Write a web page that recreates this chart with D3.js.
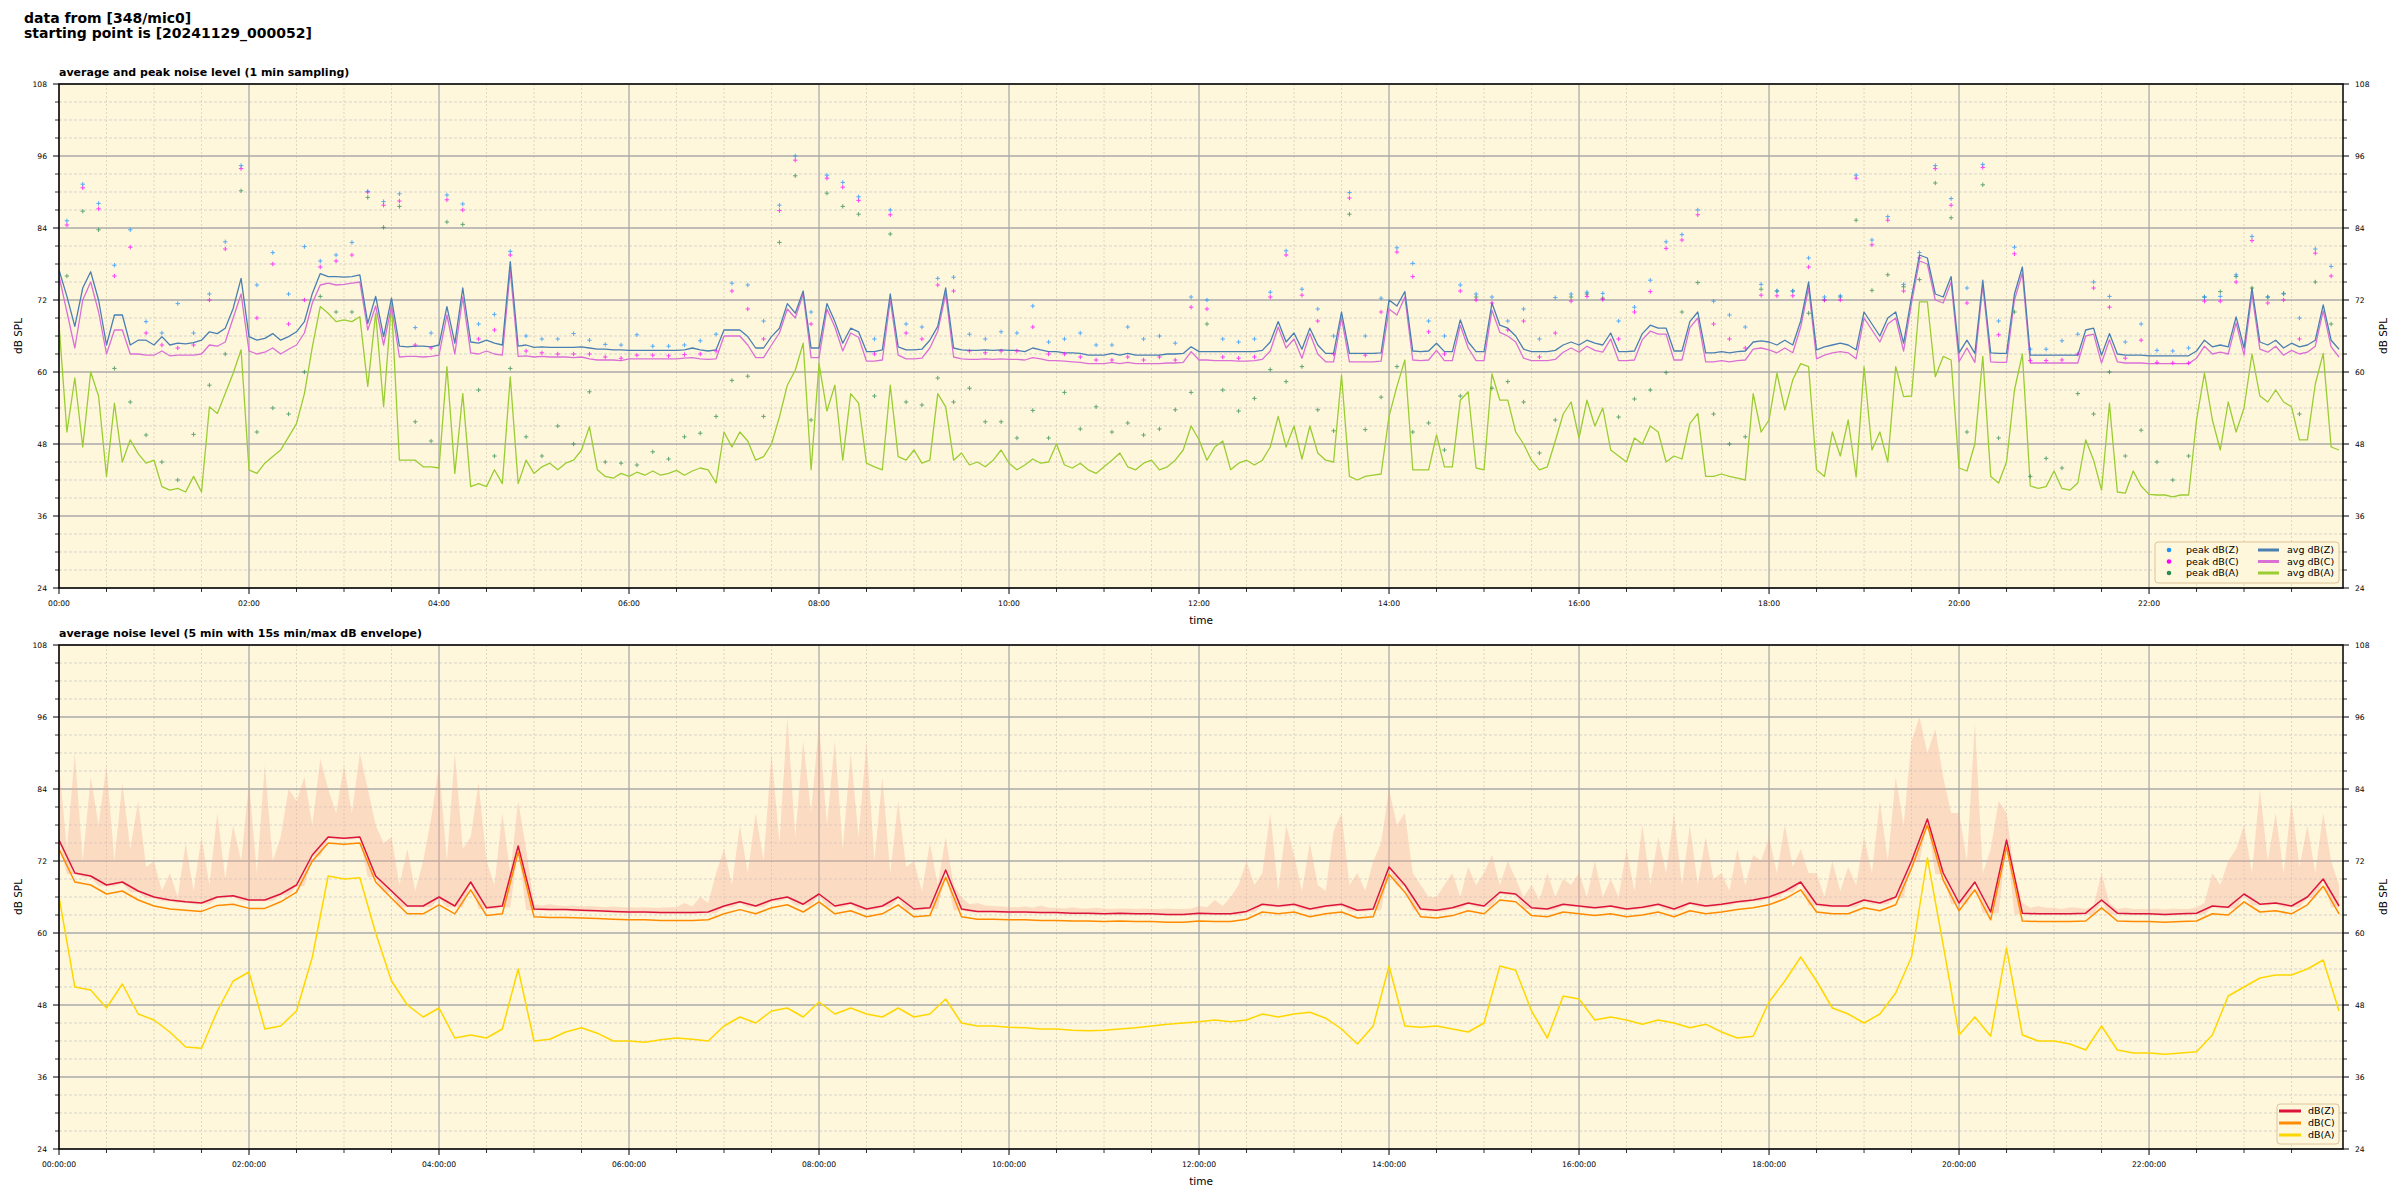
<!DOCTYPE html>
<html><head><meta charset="utf-8">
<script src="https://cdn.jsdelivr.net/npm/d3@7"></script>
<style>body{margin:0;background:#fff}svg{display:block}text{font-family:"DejaVu Sans",sans-serif;fill:#000}</style>
</head><body><svg id="c" width="2400" height="1200"></svg>
<script>
// ---------- DATA ----------
// top panel: 1-min averages, read every 5 minutes (00:00 .. 24:00)
const topZ=[77,72.6,67.6,74,76.7,72,64.5,69.5,69.5,64.5,65.3,65.3,64.5,65.9,64.5,64.8,64.7,64.9,65.3,66.7,66.4,67.3,70.6,75.6,65.9,65.3,65.6,66.4,65.3,65.9,66.7,68.4,73.1,76.4,75.9,75.9,75.8,75.9,76.2,68.1,72.6,65.9,72.3,64.3,64.2,64.3,64.3,64.2,64.5,70.9,64.8,74,65,64.8,65.3,64.8,64.5,78.4,64.3,64.5,64.1,64.2,64.1,64.1,64.1,64.1,64.2,64,63.8,63.8,63.7,63.7,
63.6,63.6,63.6,63.6,63.6,63.6,63.6,63.7,64,63.7,63.5,63.7,67,67,67,65.9,64,64,65.9,67.3,71.4,69.8,73.5,64,64,71.4,68.4,64.8,67.3,66.7,63.4,63.4,63.7,73,64.2,63.7,63.7,63.8,65.3,67.6,74,64,63.7,63.6,63.6,63.7,63.6,63.7,63.6,63.6,63.4,64,63.7,63.4,63.4,63.2,63.2,63.1,62.8,62.8,62.8,63.1,62.8,63.1,62.8,62.8,62.8,62.8,63,63,63.1,64.2,
63.4,63.4,63.4,63.4,63.4,63.4,63.4,63.4,63.6,65,68.4,65,66.5,63.8,67.3,64.5,63.1,63.1,70,63.1,63.1,63.1,63.1,63.2,72,71,73.4,63.5,63.4,63.5,64.8,63.4,63.4,68.7,65,63.4,63.4,71.5,67.8,67.3,66,63.8,63.4,63.4,63.4,63.6,64.5,65,64.5,65.3,64.8,64.5,66.5,63.4,63.4,63.5,66.4,67.8,67.3,67.3,63.5,63.5,68.4,70,63.2,63.2,63.4,63.2,63.4,63.5,65,65.2,
65,64.5,65.3,64.5,68.5,75,63.7,64.2,64.5,64.8,64.5,63.7,70,68,66,69,70,64.8,72.5,79.5,79,73,72.5,75.9,63.2,65.3,63.1,75.3,63.2,63.1,63.1,73,77.5,62.8,62.8,62.8,62.8,62.8,62.8,62.8,67,67.3,62.8,66.4,63,62.8,62.8,62.8,62.7,62.7,62.7,62.7,62.7,62.7,63.5,65.3,64.2,64.5,64.2,69.2,64,74,65,64.5,65.3,64,64.8,64.2,64.5,65.3,71.2,65.3,63.8];
const topC=[76,70,64,72,75,70,63,67,67,63,63,62.8,62.8,63.5,62.7,62.8,62.8,62.8,63,64.5,64.3,65,69,73,63.5,63,63.3,64,63,63.8,64.5,66.5,71.5,74.5,74.8,74.5,74.6,74.8,75,67,71,64.5,71,62.5,62.6,62.6,62.5,62.6,62.8,69.5,63,72.5,63.2,63,63.5,63,62.8,77,62.6,62.7,62.5,62.6,62.5,62.5,62.5,62.4,62.5,62.2,62,62,62,61.9,
62.2,62.2,62.2,62.2,62.2,62.2,62.2,62.3,62.4,62.2,62.1,62.2,66,66,66,64.5,62.4,62.4,64.5,66.5,70.5,69,73,62.4,62.4,70.5,67.5,63.5,66.5,65.8,61.8,61.8,62,72,62.8,62.2,62.2,62.3,64,66.8,73,62.5,62.2,62.1,62.1,62.2,62.1,62.2,62.1,62.1,62,62.4,62.2,61.9,61.9,61.8,61.7,61.6,61.4,61.4,61.4,61.6,61.4,61.6,61.4,61.4,61.4,61.4,61.5,61.5,61.6,63.4,
62,62,61.9,61.9,61.9,61.8,61.8,61.9,62.1,63.5,67.5,64,65.5,62.3,66.4,63,61.7,61.7,69,61.7,61.7,61.7,61.7,61.8,70.5,69.5,72.5,62,61.9,62,63.6,61.9,61.9,67.8,64,61.9,61.9,70.3,66.6,66,65,62.3,61.9,61.9,61.9,62.1,63.3,64,63.3,64.3,63.6,63.3,65.5,61.9,61.9,62,65.4,66.8,66.3,66.3,62,62,67.4,69,61.7,61.7,61.9,61.7,61.9,62,63.8,64,
63.7,63.2,64,63.2,67.5,74,62.2,62.8,63.2,63.4,63.2,62.2,69,67,65,68,69,63.5,71.5,78.5,78,72,71.5,75,61.7,64,61.6,74.5,61.7,61.6,61.6,72,76.5,61.5,61.5,61.5,61.5,61.5,61.5,61.5,66,66.3,61.5,65.4,61.7,61.5,61.5,61.5,61.4,61.4,61.4,61.4,61.4,61.4,62.3,64.3,63,63.3,63,68.2,62.8,73,63.8,63.3,64.3,62.8,63.6,63,63.3,64.3,70.2,64.2,62.5];
const topA=[68,50,59,47.5,60,56,42.6,54.8,45,48.7,46.4,44.8,45.3,40.9,40.3,40.6,40,42.6,40,54.2,53.1,56.4,59.8,63.7,43.7,43.1,44.8,45.9,47,49.2,51.4,56.4,64.2,70.9,69.8,68.4,68.7,68.4,69.2,57.6,69.8,54.2,71.4,45.3,45.3,45.3,44.2,44.2,44,60.9,43.1,56.4,40.9,41.4,40.9,43.7,41.4,59.2,41.4,45.3,43.1,44.2,44.8,43.7,44.8,45.3,47,50.9,43.7,42.6,42.3,43.1,
42.6,43.3,42.8,43.5,42.8,43.1,43.6,42.8,43.5,44,43.7,41.5,50,47.5,50,48.5,45.3,45.9,48,52.5,57.8,60.3,64.8,43.7,61.4,53.5,57.8,45.3,56.4,54.8,44.8,44.2,43.7,57.8,45.9,45.3,47,44.8,45.3,56.4,54.2,45.3,46.5,44.5,45,44.2,45.3,47,44.8,43.7,44.5,45.5,44.8,45,48,44.5,44,44.8,43.7,43.1,44.2,45.3,46.5,44.2,43.7,44.8,45.3,43.7,44.2,45.3,47,51,
48.7,45.3,47.5,48.5,43.7,44.8,45.3,44.5,45.3,47.5,52.6,47.5,51,45.5,51,46.5,45.3,45,59.5,42.6,42,42.6,42.8,43,52.6,57.6,62,43.7,43.7,43.7,49.5,44.2,44.2,55.3,56.7,44,43.7,59.7,55.3,55.3,50,48,45.3,43.7,44.2,48.5,53,55,49,55.3,51,54,47,46,45,49,48,51,50,45,46,45.5,51.4,53.1,42.6,42.6,43,42.6,42.3,42,56.4,50,
52,59.8,53.7,58.7,61.4,60.9,43.7,42.6,50,46,52,42.5,60.9,47,50,45,60.9,55.9,56,71.7,71.7,59.2,62.6,62,44,43.5,48,62.6,42.6,41.5,45,57,63,41,40.6,40.9,43.5,40.6,40.3,41.5,48.7,45.3,40.3,54.8,40,39.8,43.5,41,39.6,39.5,39.5,39.2,39.5,39.5,52,59.8,52,47,55,50,54,63,56,55,57,55,54.2,48.7,48.7,58,63.1,47.5,47];
// peaks, one reading per 10 minutes (centred at hh:05, hh:15 ...)
const peakZ=[85.2,91.3,88.1,77.8,83.7,68.4,66.5,71.4,66.5,73,81.7,94.4,74.5,79.9,73,80.9,78.5,79.5,81.6,90.1,88.4,89.7,67.4,66.5,89.5,88,68,69.6,80.1,66,65.5,65.5,66.4,65.3,64.6,64.5,
66.2,64.3,64.3,64.5,65.2,66.3,74.8,74.5,68.5,87.8,96,70,92.8,91.6,89.2,65.5,87,68,67.5,75.6,75.8,66.3,65.5,66.7,66.5,71,65,65.5,66.5,64.5,64.5,67.5,65.5,66,64.8,72.5,
72,65.5,65,65.5,73.3,80.2,73.8,70.5,66,89.9,66,72.3,80.7,78.1,68.5,66,74.5,73,72.5,68.5,70.5,65.5,72.4,73,73.3,73.1,68.5,70.8,75.3,81.7,82.9,87,71.8,69.5,67.5,74.6,
73.5,73.5,79,72.5,72.7,92.8,82,85.9,74.6,79.9,94.4,88.9,74,94.6,68.5,80.8,63.8,63.8,65.2,66.3,75,72.6,65,68,63.6,63.5,64,72.5,72.6,76.2,82.6,72.5,73,69,80.5,77.6];
const peakC=[84.5,90.7,87.2,76,80.8,66.5,64.5,64,64.5,72,80.5,93.9,69,78,68,72,77.5,78.5,79.5,90,87.8,88.5,64.5,64,88.7,87,65.5,67,79.5,63.5,63.2,63,63,63,62.5,62.3,
62.8,62.8,62.7,62.9,63,63.5,73.5,70.5,65.5,86.9,95.3,68,92.3,90.8,88.6,63,86.2,66.5,65.5,74.5,73.5,63.5,63.2,63.5,63.5,67.5,63,63,62.5,62,62,62.5,62,62.5,62,70.8,
70.5,62.5,62.3,62.5,72.5,79.5,72.8,68.5,63,89,62.8,70,80,75.9,66.7,63,73.5,72,71.5,67,68.5,62.5,66.5,71.8,72.6,72.1,65.5,70,73.4,80.6,82,86.2,68,65.5,64,72.8,
72.7,72.7,77.5,72,72,92.3,81.2,85.3,73.5,79,93.9,87.8,71.5,94.1,66.2,79.7,61.9,61.9,62,63,74,70.8,62.3,65.3,61.6,61.5,61.5,71.8,71.8,75,81.9,71.5,72,65.5,79.8,76];
const peakA=[76,86.8,83.7,60.6,55,49.5,45,42,49.6,57.8,63,90.2,50,54,53,60,72.6,70,70,89.1,84.1,87.6,51.7,48.5,85,84.6,57,46,60.6,49.2,46,51,48,56.7,45,44.8,
44.5,46.7,45.5,49.2,49.8,52.6,58.6,59.3,52.6,81.6,92.7,52,89.8,87.6,86.3,56,83,55,54.5,59,55,57.3,51.7,51.7,49,53.6,49,56.6,50.5,54.2,50,51.5,49.5,50.5,53.7,56.6,
68,57,53.5,55.6,60.4,58.4,60.9,53.7,50.2,86.3,50.4,55.8,60.9,50,51.5,47,56,72.5,57.3,58.4,55,46.5,52,72.5,73,72.3,52.5,55.5,57,59.9,70,74.9,53,48,49.2,73.8,
73.5,73.5,69.8,72,72.5,85.3,73.6,76.2,74.2,75.4,91.5,85.7,50,91.2,49,70,42.6,45.6,44,56.4,53,60,46,50.3,45,42,46,72.5,73.4,75.9,74,72.5,73.1,53,75,68];
// bottom panel: 5-min averages, read every 10 minutes (00:00 .. 24:00)
const botZ=[75.5,70,69.5,68,68.5,67,66,65.5,65.2,65,66,66.2,65.5,65.5,66.5,68,73,76,75.8,76,69.5,67,64.5,64.5,66,64.5,68.5,64.2,64.5,74.5,64,63.9,63.9,63.8,63.7,63.6,63.5,63.5,63.4,63.4,63.4,63.5,64.5,65.2,64.5,65.5,66,64.8,66.5,64.5,65,64,64.5,66,64,64.2,70.5,64,63.6,63.6,63.5,63.5,63.4,63.4,63.3,63.3,63.2,63.3,63.2,63.2,63.1,63.1,63.3,63.2,63.2,63.6,64.8,64.5,64.8,64,64.5,64.8,63.8,64,71,68,64,63.8,64.2,65,64.5,66.8,66.5,64.2,64,64.8,64.5,64.2,64.5,64,64.3,64.8,64,65,64.5,64.8,65.2,65.5,66,67,68.5,64.8,64.5,64.5,65.5,65,66,72,79,70,65,68.5,63.5,75.5,63.3,63.2,63.2,63.2,63.3,65.5,63.3,63.2,63.2,63.1,63.2,63.3,64.5,64.3,66.5,64.8,65,64.5,66,69,64.5];
const botC=[74,68.5,68,66.5,67,65.5,64.5,64,63.8,63.6,64.6,64.8,64.1,64.1,65.2,66.8,72,75,74.8,75,68.5,65.8,63.2,63.2,64.7,63.2,67.2,62.9,63.2,73.5,62.7,62.6,62.6,62.5,62.4,62.3,62.2,62.2,62.1,62.1,62.1,62.2,63.2,63.9,63.2,64.2,64.7,63.5,65.2,63.2,63.7,62.7,63.2,64.7,62.7,62.9,69.3,62.7,62.3,62.3,62.2,62.2,62.1,62.1,62,62,61.9,62,61.9,61.9,61.8,61.8,62,61.9,61.9,62.3,63.5,63.2,63.5,62.7,63.2,63.5,62.5,62.7,69.8,66.8,62.7,62.5,62.9,63.7,63.2,65.5,65.2,62.9,62.7,63.5,63.2,62.9,63.2,62.7,63,63.5,62.7,63.7,63.2,63.5,63.9,64.2,64.7,65.7,67.2,63.5,63.2,63.2,64.2,63.7,64.7,70.8,78,68.8,63.7,67.2,62.2,74.3,62,61.9,61.9,61.9,62,64.2,62,61.9,61.9,61.8,61.9,62,63.2,63,65.2,63.5,63.7,63.2,64.7,67.8,63.2];
const botA=[66,51,50.5,47.5,51.5,46.5,45.5,43.5,41,40.8,47,52,53.5,44,44.5,47,56,69.5,69,69.2,60,52,48,46,47.5,42.5,43,42.5,44,54,42,42.3,43.5,44.2,43.3,42,42,41.8,42.2,42.5,42.3,42,44.5,46,45,47,47.5,46,48.5,46.5,47.5,46.5,46,47.5,46,46.5,49,45,44.5,44.5,44.3,44.2,44,44,43.8,43.7,43.8,44,44.2,44.5,44.8,45,45.2,45.5,45.2,45.5,46.5,46,46.5,46.8,45.8,44,41.5,44.5,54.5,44.5,44.3,44.5,44,43.5,45,54.5,53.8,47,42.5,49.5,49,45.5,46,45.5,44.8,45.5,45,44.2,44.8,43.5,42.5,42.8,48.5,52,56,52,47.5,46.5,45,46.5,50,56,72.5,58,43,46,42.8,57.5,43,42,42,41.5,40.5,44.5,40.5,40,40,39.8,40,40.2,43,49.5,51,52.5,53,53,54,55.5,47];
// 15 s min/max envelope, read every 5 minutes
const envLow=[75.3,69.8,69.8,69.3,69.3,67.8,67.8,67.8,68.3,66.8,66.8,65.8,65.8,65.3,65.3,65,65,64.8,64.8,64.8,
65.8,65.8,66,65.3,65.3,65.3,65.3,65.3,66.3,66.3,67.8,67.8,72.8,72.8,75.8,75.6,75.6,75.6,75.8,69.3,
69.3,66.8,66.8,64.3,64.3,64.3,64.3,64.3,65.8,64.3,64.3,64.3,68.3,64,64,64,64.3,64.3,74.3,63.8,
63.8,63.7,63.7,63.7,63.7,63.6,63.6,63.5,63.5,63.4,63.4,63.3,63.3,63.3,63.3,63.2,63.2,63.2,63.2,63.2,
63.2,63.2,63.3,63.3,64.3,64.3,65,64.3,64.3,64.3,65.3,65.3,65.8,64.6,64.6,64.6,66.3,64.3,64.3,64.3,
64.8,63.8,63.8,63.8,64.3,64.3,65.8,63.8,63.8,63.8,64,64,70.3,63.8,63.8,63.4,63.4,63.4,63.4,63.3,
63.3,63.3,63.3,63.2,63.2,63.2,63.2,63.1,63.1,63.1,63.1,63,63,63,63.1,63,63,63,63,62.9,
62.9,62.9,62.9,62.9,63.1,63,63,63,63,63,63.4,63.4,64.6,64.3,64.3,64.3,64.6,63.8,63.8,63.8,
64.3,64.3,64.6,63.6,63.6,63.6,63.8,63.8,70.8,67.8,67.8,63.8,63.8,63.6,63.6,63.6,64,64,64.8,64.3,
64.3,64.3,66.6,66.3,66.3,64,64,63.8,63.8,63.8,64.6,64.3,64.3,64,64,64,64.3,63.8,63.8,63.8,
64.1,64.1,64.6,63.8,63.8,63.8,64.8,64.3,64.3,64.3,64.6,64.6,65,65,65.3,65.3,65.8,65.8,66.8,66.8,
68.3,64.6,64.6,64.3,64.3,64.3,64.3,64.3,65.3,64.8,64.8,64.8,65.8,65.8,71.8,71.8,78.8,69.8,69.8,64.8,
64.8,64.8,68.3,63.3,63.3,63.3,75.3,63.1,63.1,63,63,63,63,63,63,63,63.1,63.1,65.3,63.1,
63.1,63,63,63,63,62.9,62.9,62.9,63,63,63.1,63.1,64.3,64.1,64.1,64.1,66.3,64.6,64.6,64.6,
64.8,64.3,64.3,64.3,65.8,65.8,68.8,64.3,64.3];
const envHigh=[88,74,90,72,86,78,88,72,85,74,82,71,
72,67,70,66,75,67,76,68,80,69,78,72,
85,70,88,72,76,84,82,86,78,89,84,80,
88,80,90,84,78,75,76,68,74,67,72,79,
88,72,90,74,76,85,72,68,80,70,82,74,
64.8,64.6,64.8,64.6,64.5,64.6,64.4,64.5,64.4,64.3,64.4,64.3,
64.3,64.2,64.3,64.2,64.2,64.3,64.3,65,64.4,66,65,70,
74,68,78,70,80,72,90,75,96,76,92,80,
95,78,92,74,90,76,92,72,86,70,82,71,
72,67,75,68,76,68,66,64.8,65,64.6,64.5,64.4,
64.3,64.3,64.4,64.2,64.6,64.2,64.2,64.1,64.3,64.1,64.1,64.2,
64.1,64,64.1,64.1,64,64.1,64,64,64.1,64,64,64.1,
64.5,64.3,65.5,64.5,66,68,72,68,70,80,67,78,
73,67,75,68,67,77,80,68,70,67,72,75,
84,78,80,70,68,66,66,68,70,66,71,68,
70,73,68,72,69,66,68,65.5,70,66,69,68,
70,66,72,66,69,66,74,67,78,68,76,70,
80,68,78,68,76,69,70,67,74,68,73,72,
76,70,78,71,74,70,70,66,72,67,71,68,
76,70,82,72,86,78,92,96,90,94,86,80,
80,72,95,70,74,82,80,70,65,64.2,64.5,64.2,
64.2,64,64.3,64.2,64,64.5,70,65,64,64.2,64,64,
64,64.1,63.9,64.1,64,64,64.3,65,70,68,72,74,
78,70,84,72,80,70,82,71,78,70,80,72,
68];
// axes / labels
const yTicks=[24,36,48,60,72,84,96,108];
const xTickHours=[0,2,4,6,8,10,12,14,16,18,20,22];
const titleLines=["data from [348/mic0]","starting point is [20241129_000052]"];
const panelTitles=["average and peak noise level (1 min sampling)","average noise level (5 min with 15s min/max dB envelope)"];
const legendTop=[["peak dB(Z)","avg dB(Z)"],["peak dB(C)","avg dB(C)"],["peak dB(A)","avg dB(A)"]];
const legendBot=["dB(Z)","dB(C)","dB(A)"];

// ---------- DRAW ----------
const svg=d3.select('#c');
const X0=59,X1=2343;
const x=d3.scaleLinear().domain([0,1442.5]).range([X0,X1]);
const topT=topZ.map((d,i)=>i*5);
const peakT=peakZ.map((d,i)=>5+i*10);
const botT=botZ.map((d,i)=>i*10);
const envT=envHigh.map((d,i)=>i*5);
const pad=n=>String(n).padStart(2,'0');
const col={pz:'#1e90ff',pc:'#ff00ff',pa:'#2e8b57',az:'#4a7fb2',ac:'#da70d6',aa:'#9acd32',bz:'#dc143c',bc:'#ff8c00',ba:'#ffd700'};

svg.append('g').selectAll('text').data(titleLines).join('text')
  .attr('x',24).attr('y',(d,i)=>23+i*15).attr('font-size',14).attr('font-weight','bold').text(d=>d);

function panel(top,bot,idx,fmtSec){
  const y=d3.scaleLinear().domain([24,108]).range([bot,top]);
  const g=svg.append('g');
  const cid='clip'+idx;
  g.append('clipPath').attr('id',cid).append('rect').attr('x',X0).attr('y',top).attr('width',X1-X0).attr('height',bot-top);
  g.append('rect').attr('x',X0).attr('y',top).attr('width',X1-X0).attr('height',bot-top).attr('fill','#fff7dc');
  const minorY=d3.range(24,109,3).filter(v=>v%12!==0);
  g.append('g').selectAll('line').data(minorY).join('line')
    .attr('x1',X0).attr('x2',X1).attr('y1',d=>y(d)).attr('y2',d=>y(d))
    .attr('stroke','#c4c4c4').attr('stroke-width',0.7).attr('stroke-dasharray','3,2');
  const minorX=d3.range(30,1441,30).filter(v=>v%120!==0);
  g.append('g').selectAll('line').data(minorX).join('line')
    .attr('x1',d=>x(d)).attr('x2',d=>x(d)).attr('y1',top).attr('y2',bot)
    .attr('stroke','#d2cab2').attr('stroke-width',0.7).attr('stroke-dasharray','2,2');
  g.append('g').selectAll('line').data(yTicks).join('line')
    .attr('x1',X0).attr('x2',X1).attr('y1',d=>y(d)).attr('y2',d=>y(d))
    .attr('stroke','#aaaaaa').attr('stroke-width',1.3);
  g.append('g').selectAll('line').data(xTickHours).join('line')
    .attr('x1',d=>x(d*60)).attr('x2',d=>x(d*60)).attr('y1',top).attr('y2',bot)
    .attr('stroke','#aaaaaa').attr('stroke-width',1.3);
  const data=g.append('g').attr('clip-path',`url(#${cid})`);
  g.append('rect').attr('x',X0).attr('y',top).attr('width',X1-X0).attr('height',bot-top)
    .attr('fill','none').attr('stroke','#000').attr('stroke-width',1.5);
  const ax=g.append('g').attr('stroke','#000');
  [[X0,-1],[X1,1]].forEach(([xx,s])=>{
    ax.append('g').selectAll('line').data(yTicks).join('line')
      .attr('x1',xx).attr('x2',xx+s*6).attr('y1',d=>y(d)).attr('y2',d=>y(d)).attr('stroke-width',1);
    ax.append('g').selectAll('line').data(minorY).join('line')
      .attr('x1',xx).attr('x2',xx+s*4).attr('y1',d=>y(d)).attr('y2',d=>y(d)).attr('stroke-width',0.8);
  });
  g.append('g').selectAll('text').data(yTicks).join('text')
    .attr('x',47).attr('y',d=>y(d)+3).attr('text-anchor','end').attr('font-size',7.6).text(d=>d);
  g.append('g').selectAll('text').data(yTicks).join('text')
    .attr('x',2355).attr('y',d=>y(d)+3).attr('font-size',7.6).text(d=>d);
  ax.append('g').selectAll('line').data(xTickHours).join('line')
    .attr('x1',d=>x(d*60)).attr('x2',d=>x(d*60)).attr('y1',bot).attr('y2',bot+6).attr('stroke-width',1);
  ax.append('g').selectAll('line').data(minorX).join('line')
    .attr('x1',d=>x(d)).attr('x2',d=>x(d)).attr('y1',bot).attr('y2',bot+4).attr('stroke-width',0.8);
  g.append('g').selectAll('text').data(xTickHours).join('text')
    .attr('x',d=>x(d*60)).attr('y',bot+18).attr('text-anchor','middle').attr('font-size',7.6)
    .text(d=>fmtSec?`${pad(d)}:00:00`:`${pad(d)}:00`);
  g.append('text').attr('x',(X0+X1)/2).attr('y',bot+36).attr('text-anchor','middle').attr('font-size',10.5).text('time');
  g.append('text').attr('transform',`translate(22,${(top+bot)/2}) rotate(-90)`).attr('text-anchor','middle').attr('font-size',10.5).text('dB SPL');
  g.append('text').attr('transform',`translate(2387,${(top+bot)/2}) rotate(-90)`).attr('text-anchor','middle').attr('font-size',10.5).text('dB SPL');
  g.append('text').attr('x',X0).attr('y',top-8).attr('font-size',11).attr('font-weight','bold').text(panelTitles[idx]);
  return {y,data,g};
}

// top panel
const P1=panel(84,588,0,false);
[[topA,col.aa],[topC,col.ac],[topZ,col.az]].forEach(([a,c])=>{
  P1.data.append('path').attr('d',d3.line().x((d,i)=>x(topT[i])).y(d=>P1.y(d))(a))
    .attr('fill','none').attr('stroke',c).attr('stroke-width',1.3).attr('stroke-linejoin','round');
});
[[peakA,col.pa],[peakC,col.pc],[peakZ,col.pz]].forEach(([a,c])=>{
  P1.data.append('g').selectAll('path').data(a).join('path')
    .attr('transform',(d,i)=>`translate(${x(peakT[i])},${P1.y(d)})`)
    .attr('d','M-2.2,0H2.2M0,-2.2V2.2').attr('stroke',c).attr('stroke-width',1).attr('opacity',0.75);
});
const L1=P1.g.append('g');
L1.append('rect').attr('x',2155).attr('y',542).attr('width',184).attr('height',41).attr('rx',3)
  .attr('fill','#fff7dc').attr('stroke','#dcc49a').attr('stroke-width',1);
const pcols=[col.pz,col.pc,col.pa], acols=[col.az,col.ac,col.aa];
legendTop.forEach((r,i)=>{
  const yy=550+i*11.5;
  L1.append('circle').attr('cx',2169).attr('cy',yy).attr('r',2.3).attr('fill',pcols[i]);
  L1.append('text').attr('x',2186).attr('y',yy+3.3).attr('font-size',9.5).text(r[0]);
  L1.append('line').attr('x1',2258).attr('x2',2279).attr('y1',yy).attr('y2',yy).attr('stroke',acols[i]).attr('stroke-width',3);
  L1.append('text').attr('x',2287).attr('y',yy+3.3).attr('font-size',9.5).text(r[1]);
});

// bottom panel
const P2=panel(645,1149,1,true);
P2.data.append('path')
  .attr('d',d3.area().x((d,i)=>x(envT[i])).y0((d,i)=>P2.y(envLow[i])).y1(d=>P2.y(d))(envHigh))
  .attr('fill','#f4a894').attr('opacity',0.35);
[[botZ,col.bz],[botC,col.bc],[botA,col.ba]].forEach(([a,c])=>{
  P2.data.append('path').attr('d',d3.line().x((d,i)=>x(botT[i])).y(d=>P2.y(d))(a))
    .attr('fill','none').attr('stroke',c).attr('stroke-width',1.5).attr('stroke-linejoin','round');
});
const L2=P2.g.append('g');
L2.append('rect').attr('x',2277).attr('y',1104).attr('width',62).attr('height',40).attr('rx',3)
  .attr('fill','#fff7dc').attr('stroke','#dcc49a').attr('stroke-width',1);
[col.bz,col.bc,col.ba].forEach((c,i)=>{
  const yy=1111+i*12;
  L2.append('line').attr('x1',2279).attr('x2',2301).attr('y1',yy).attr('y2',yy).attr('stroke',c).attr('stroke-width',3);
  L2.append('text').attr('x',2308).attr('y',yy+3.3).attr('font-size',9.5).text(legendBot[i]);
});
</script></body></html>
